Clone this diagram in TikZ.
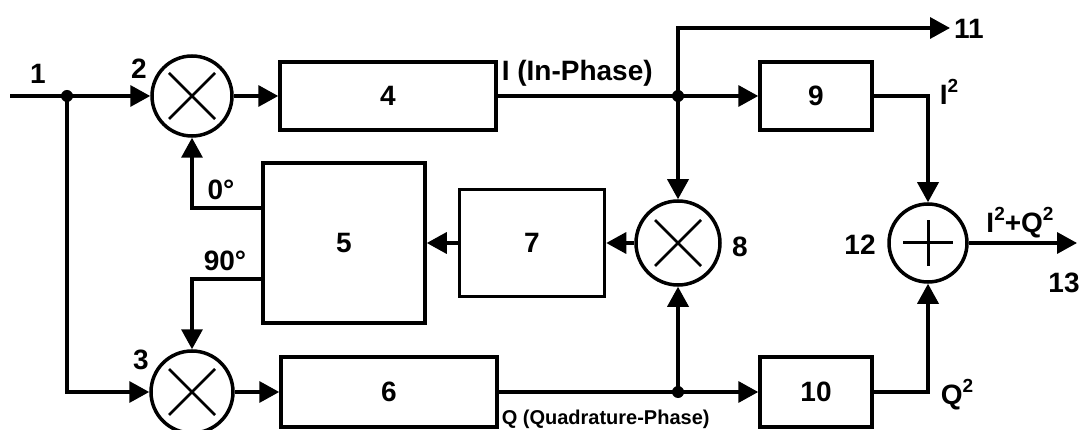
\documentclass[tikz,border=0pt]{standalone}
\usepackage{fontspec}
\setmainfont{Liberation Sans}
\usetikzlibrary{arrows.meta}
\newcommand\supii{\raisebox{0.42em}{\fontsize{19}{19}\selectfont 2}}
\begin{document}
\begin{tikzpicture}[x=1pt,y=-1pt, line width=3.5pt,
  >={Triangle[length=20pt,width=21pt]},
  blk/.style={draw, line width=3.5pt, inner sep=0, font=\fontsize{28}{30}\selectfont\bfseries},
  mix/.style={circle, draw, line width=3.5pt, inner sep=0, minimum size=#1,
    path picture={\draw[line width=2.5pt] (path picture bounding box.center) +(-23pt,-23pt) -- +(23pt,23pt) +(-23pt,23pt) -- +(23pt,-23pt);}},
  addr/.style={circle, draw, line width=3.5pt, inner sep=0, minimum size=#1,
    path picture={\draw[line width=3pt] (path picture bounding box.center) +(-25pt,0pt) -- +(25pt,0pt) +(0pt,-23pt) -- +(0pt,23pt);}},
  lbl/.style={inner sep=0, font=\fontsize{28}{30}\selectfont\bfseries},
  jdot/.style={circle, fill, inner sep=0, minimum size=12pt}]
\useasboundingbox (0,0) rectangle (1081,430);

% blocks
\node[blk, minimum width=216pt, minimum height=68pt] (b4) at (388,96) {4};
\node[blk, minimum width=162pt, minimum height=160pt] (b5) at (344,243) {5};
\node[blk, minimum width=216pt, minimum height=70pt] (b6) at (389,392) {6};
\node[blk, minimum width=145pt, minimum height=107pt] (b7) at (532,243) {7};
\node[blk, minimum width=112pt, minimum height=68pt] (b9) at (816,96) {9};
\node[blk, minimum width=112pt, minimum height=70pt] (b10) at (816,392) {10};

% mixers / adder
\node[mix=80pt] (m2) at (192,96) {};
\node[mix=82pt] (m3) at (192,392) {};
\node[mix=84pt] (m8) at (678,243) {};
\node[addr=78pt] (m12) at (928,243) {};

% junctions and free ends
\coordinate (in) at (10,96);
\node[jdot] (j1) at (67,96) {};
\node[jdot] (jI) at (678,96) {};
\node[jdot] (jQ) at (678,392) {};
\coordinate (o11) at (950,28);
\coordinate (o13) at (1077,243);

% connectors
\draw (in) -- (j1.center);
\draw[->] (j1.center) -- (m2.west);
\draw[->] (j1.center) |- (m3.west);
\draw[->] (m2.east) -- (b4.west);
\draw[->] (m3.east) -- (b6.west);
\draw (b4.east) -- (jI.center);
\draw[->] (jI.center) -- (b9.west);
\draw[->] (jI.center) -- (m8.north);
\draw[->] (jI.center) |- (o11);
\draw (b6.east) -- (jQ.center);
\draw[->] (jQ.center) -- (b10.west);
\draw[->] (jQ.center) -- (m8.south);
\draw[->] (m8.west) -- (b7.east);
\draw[->] (b7.west) -- (b7.west -| b5.east);
\draw[->] ([yshift=35pt]b5.west) -| (m2.south);
\draw[->] ([yshift=-36pt]b5.west) -| (m3.north);
\draw[->] (b9.east) -| (m12.north);
\draw[->] (b10.east) -| (m12.south);
\draw[->] (m12.east) -- (o13);

% labels
\node[lbl] (t1) at (38,74) {1};
\node[lbl] (t2) at (139,69) {2};
\node[lbl] (t3) at (141,360) {3};
\node[lbl] (t0) at (221,190) {0°};
\node[lbl] (t90) at (225,261) {90°};
\node[lbl, anchor=west] (tI) at (500,73) {I (In-Phase)};
\node[lbl, font=\fontsize{20}{22}\selectfont\bfseries, anchor=west] (tQ) at (500,419) {Q (Quadrature-Phase)};
\node[lbl] (t8) at (740,247) {8};
\node[lbl] (t11) at (969,29) {11};
\node[lbl] (tI2) at (949,92) {I\supii};
\node[lbl] (t12) at (860,245) {12};
\node[lbl] (tsum) at (1020,223) {I\supii+Q\supii};
\node[lbl] (t13) at (1064,283) {13};
\node[lbl] (tQ2) at (957,395) {Q\supii};
\end{tikzpicture}
\end{document}
